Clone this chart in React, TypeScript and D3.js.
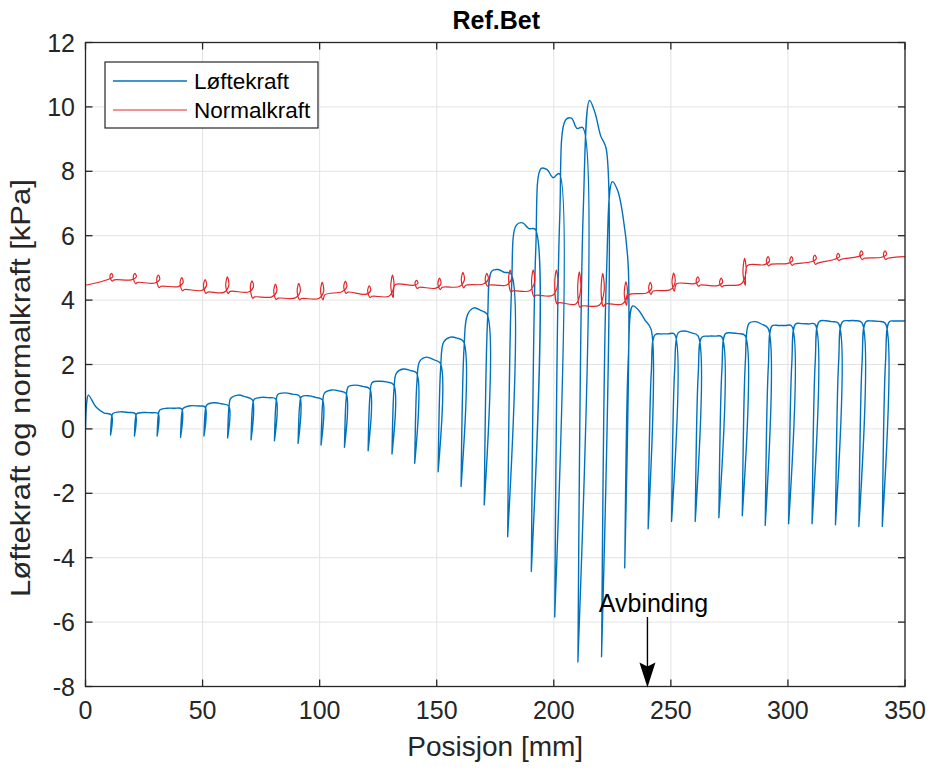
import React from "react";
import * as d3 from "d3";

// ---- axes ----
const xTicks = [0, 50, 100, 150, 200, 250, 300, 350];
const yTicks = [-8, -6, -4, -2, 0, 2, 4, 6, 8, 10, 12];

// ---- Løftekraft (kPa) ----
// value at the start of the record
const liftStart = 0.0;
// position (mm) and value (kPa) of the bottom of each unloading dip
const liftDipPos = [
  10.7, 20.9, 30.6, 40.6, 50.6, 60.7, 70.7, 80.7, 90.8, 100.6,
  110.6, 120.7, 130.9, 140.6, 150.6, 160.4, 170.3, 180.3, 190.4, 200.4,
  210.3, 220.4, 230.3, 240.3, 250.3, 260.4, 270.5, 280.5, 290.3, 300.3,
  310.3, 320.3, 330.3, 340.3,
];
const liftDipMin = [
  -0.19, -0.22, -0.22, -0.26, -0.22, -0.28, -0.34, -0.37, -0.45, -0.5,
  -0.57, -0.68, -0.78, -1.07, -1.33, -1.79, -2.36, -3.35, -4.43, -5.84,
  -7.24, -7.08, -4.32, -3.1, -2.88, -2.88, -2.76, -2.7, -3.0, -2.95,
  -2.95, -2.98, -3.03, -3.03,
];
// plateau between two dips: level after recovery, at one third, at two thirds, and just before the next dip
const liftRise = [
  1.05, 0.48, 0.47, 0.58, 0.64, 0.74, 0.95, 0.92, 1.07, 1.0,
  1.12, 1.31, 1.44, 1.73, 2.1, 2.7, 3.55, 4.9, 6.33, 8.09,
  9.6, 10.2, 7.68, 3.82, 2.92, 2.99, 2.85, 2.96, 3.28, 3.2,
  3.26, 3.33, 3.33, 3.33, 3.33,
];
const liftEarly = [
  0.68, 0.53, 0.51, 0.64, 0.72, 0.81, 1.05, 0.98, 1.12, 1.03,
  1.21, 1.36, 1.48, 1.86, 2.23, 2.85, 3.76, 4.95, 6.4, 8.05,
  9.65, 9.8, 7.4, 3.68, 2.95, 3.04, 2.88, 2.98, 3.33, 3.21,
  3.27, 3.36, 3.36, 3.35, 3.35,
];
const liftLate = [
  0.5, 0.51, 0.5, 0.64, 0.71, 0.78, 1.0, 0.97, 1.08, 0.98,
  1.18, 1.32, 1.46, 1.82, 2.15, 2.82, 3.68, 4.86, 6.22, 7.8,
  9.33, 9.1, 6.6, 3.38, 2.95, 2.98, 2.88, 2.96, 3.25, 3.21,
  3.26, 3.33, 3.36, 3.34, 3.35,
];
const liftEnd = [
  0.43, 0.47, 0.48, 0.62, 0.68, 0.71, 0.9, 0.93, 1.02, 0.9,
  1.1, 1.24, 1.37, 1.73, 2.04, 2.71, 3.56, 4.82, 6.2, 7.93,
  9.36, 8.7, 5.0, 3.1, 2.95, 2.89, 2.86, 2.9, 3.12, 3.2,
  3.25, 3.28, 3.3, 3.28, 3.35,
];

// ---- Normalkraft (kPa) ----
// loading loops: position (mm) and top of each loop
const normEventPos = [
  10.9, 20.9, 30.9, 40.9, 50.9, 60.4, 70.9, 80.9, 90.9, 100.9,
  110.8, 121.0, 130.9, 141.2, 151.0, 161.0, 171.2, 181.2, 191.0, 200.9,
  210.7, 220.7, 230.6, 241.0, 251.0, 261.3, 271.3, 281.3, 291.3, 301.3,
  311.3, 321.3, 331.2, 341.3,
];
const normEventPeak = [
  4.83, 4.83, 4.78, 4.7, 4.64, 4.72, 4.6, 4.5, 4.52, 4.55,
  4.59, 4.44, 4.78, 4.61, 4.68, 4.86, 4.83, 4.93, 4.93, 4.93,
  4.88, 4.83, 4.57, 4.55, 4.84, 4.72, 4.68, 5.3, 5.35, 5.35,
  5.4, 5.45, 5.53, 5.53,
];
// level at the start and at the end of each stretch between loops
const normSegStart = [
  4.46, 4.63, 4.55, 4.43, 4.33, 4.25, 4.27, 4.1, 4.06, 4.05,
  4.17, 4.25, 4.12, 4.48, 4.4, 4.4, 4.46, 4.47, 4.29, 4.15,
  3.92, 3.82, 3.88, 4.16, 4.28, 4.51, 4.47, 4.45, 5.07, 5.11,
  5.12, 5.15, 5.27, 5.3, 5.3,
];
const normSegEnd = [
  4.64, 4.63, 4.53, 4.42, 4.3, 4.24, 4.25, 4.1, 4.07, 4.05,
  4.26, 4.18, 4.12, 4.46, 4.37, 4.42, 4.5, 4.47, 4.29, 4.15,
  3.88, 3.84, 3.88, 4.22, 4.32, 4.51, 4.45, 4.5, 5.1, 5.14,
  5.19, 5.27, 5.35, 5.33, 5.35,
];

const seriesNames = ["Løftekraft", "Normalkraft"];
const blue = "#0072BD";
const red = "#E3262A";

// ---- layout ----
const W = 931;
const H = 771;
const m = { left: 85.5, right: 905, top: 42.5, bottom: 686.5 };
const axisColor = "#262626";
const gridColor = "#e3e3e3";
const font = "'Liberation Sans', Arial, Helvetica, sans-serif";

const x = d3.scaleLinear().domain([0, 350]).range([m.left, m.right]);
const y = d3.scaleLinear().domain([-8, 12]).range([m.bottom, m.top]);

function liftPoints(): [number, number][] {
  const pts: [number, number][] = [];
  const dips = [0, ...liftDipPos];
  const mins = [liftStart, ...liftDipMin];
  const n = liftRise.length;
  for (let k = 0; k < n; k++) {
    const b = dips[k];
    const d = mins[k];
    const r = liftRise[k];
    const rw = 1.2 * Math.sqrt(Math.max(r - d, 0.3));
    pts.push([b, d]);
    pts.push([b + 0.45 * rw, d + 0.8 * (r - d)]);
    const s = b + rw;
    const t =
      k < n - 1
        ? liftDipPos[k] + 0.5 * Math.sqrt(Math.max(liftEnd[k] - liftDipMin[k], 0.3))
        : 350;
    pts.push([s, r]);
    pts.push([s + (t - s) / 3, liftEarly[k]]);
    pts.push([s + (2 * (t - s)) / 3, liftLate[k]]);
    pts.push([t, liftEnd[k]]);
  }
  return pts;
}

function normPoints(): [number, number][] {
  const pts: [number, number][] = [[0, normSegStart[0]]];
  normEventPos.forEach((xe, i) => {
    const L1 = normSegEnd[i];
    const L2 = normSegStart[i + 1];
    const P = normEventPeak[i];
    const mid = L1 + 0.45 * (P - L1);
    pts.push([xe - 1.3, L1]);
    pts.push([xe + 0.8, mid]);
    pts.push([xe + 0.2, P]);
    pts.push([xe - 0.5, mid]);
    pts.push([xe + 0.5, Math.min(L1, L2) - 0.04]);
    pts.push([xe + 1.4, L2]);
  });
  pts.push([350, normSegEnd[normSegEnd.length - 1]]);
  return pts;
}

const line = d3
  .line<[number, number]>()
  .x((d) => x(d[0]))
  .y((d) => y(d[1]))
  .curve(d3.curveCatmullRom.alpha(0.5));

export default function App() {
  const liftPath = line(liftPoints()) || "";
  const normPath = line(normPoints()) || "";
  const tickLen = 7;
  const arrowX = x(240);

  return (
    <svg
      width={W}
      height={H}
      viewBox={`0 0 ${W} ${H}`}
      style={{ display: "block", position: "absolute", left: 0, top: 0, background: "#fff" }}
      fontFamily={font}
    >
      <rect x={0} y={0} width={W} height={H} fill="#fff" />
      <defs>
        <clipPath id="plotArea">
          <rect x={m.left} y={m.top} width={m.right - m.left} height={m.bottom - m.top} />
        </clipPath>
      </defs>

      {/* grid */}
      <g stroke={gridColor} strokeWidth={1}>
        {xTicks.map((t) => (
          <line key={"gx" + t} x1={x(t)} x2={x(t)} y1={m.top} y2={m.bottom} />
        ))}
        {yTicks.map((t) => (
          <line key={"gy" + t} x1={m.left} x2={m.right} y1={y(t)} y2={y(t)} />
        ))}
      </g>

      {/* data */}
      <g clipPath="url(#plotArea)" fill="none" strokeLinejoin="round">
        <path d={liftPath} stroke={blue} strokeWidth={1.4} />
        <path d={normPath} stroke={red} strokeWidth={1.2} />
      </g>

      {/* box and ticks */}
      <g stroke={axisColor} strokeWidth={1.3}>
        <rect
          x={m.left}
          y={m.top}
          width={m.right - m.left}
          height={m.bottom - m.top}
          fill="none"
        />
        {xTicks.map((t) => (
          <g key={"tx" + t}>
            <line x1={x(t)} x2={x(t)} y1={m.bottom} y2={m.bottom - tickLen} />
            <line x1={x(t)} x2={x(t)} y1={m.top} y2={m.top + tickLen} />
          </g>
        ))}
        {yTicks.map((t) => (
          <g key={"ty" + t}>
            <line x1={m.left} x2={m.left + tickLen} y1={y(t)} y2={y(t)} />
            <line x1={m.right} x2={m.right - tickLen} y1={y(t)} y2={y(t)} />
          </g>
        ))}
      </g>

      {/* tick labels */}
      <g fill={axisColor} fontSize={25}>
        {xTicks.map((t) => (
          <text key={"lx" + t} x={x(t)} y={719} textAnchor="middle">
            {t}
          </text>
        ))}
        {yTicks.map((t) => (
          <text key={"ly" + t} x={75} y={y(t) + 9} textAnchor="end">
            {t}
          </text>
        ))}
      </g>

      {/* axis labels and title */}
      <text x={(m.left + m.right) / 2} y={756} textAnchor="middle" fontSize={28} fill={axisColor}>
        Posisjon [mm]
      </text>
      <text
        transform={`translate(30, 388) rotate(-90)`}
        textAnchor="middle"
        fontSize={28.5}
        textLength={418}
        lengthAdjust="spacingAndGlyphs"
        fill={axisColor}
      >
        Løftekraft og normalkraft [kPa]
      </text>
      <text
        x={(m.left + m.right) / 2 + 1}
        y={29}
        textAnchor="middle"
        fontSize={25}
        fontWeight="bold"
        fill="#000"
      >
        Ref.Bet
      </text>

      {/* legend */}
      <g>
        <rect x={105} y={62} width={213} height={66} fill="#fff" stroke={axisColor} strokeWidth={1.2} />
        <line x1={113} x2={187} y1={81} y2={81} stroke={blue} strokeWidth={1.4} />
        <line x1={113} x2={187} y1={110} y2={110} stroke={red} strokeWidth={1.2} />
        <text x={194} y={89} fontSize={22.5} fill="#000">
          {seriesNames[0]}
        </text>
        <text x={194} y={118} fontSize={22.5} fill="#000">
          {seriesNames[1]}
        </text>
      </g>

      {/* annotation */}
      <g>
        <text x={arrowX + 6} y={612} textAnchor="middle" fontSize={25} fill="#000">
          Avbinding
        </text>
        <line x1={arrowX} x2={arrowX} y1={617} y2={672} stroke="#000" strokeWidth={1.4} />
        <path
          d={`M${arrowX},${m.bottom + 1} L${arrowX - 8},${m.bottom - 24} L${arrowX},${m.bottom - 20} L${arrowX + 8},${m.bottom - 24} Z`}
          fill="#000"
        />
      </g>
    </svg>
  );
}
